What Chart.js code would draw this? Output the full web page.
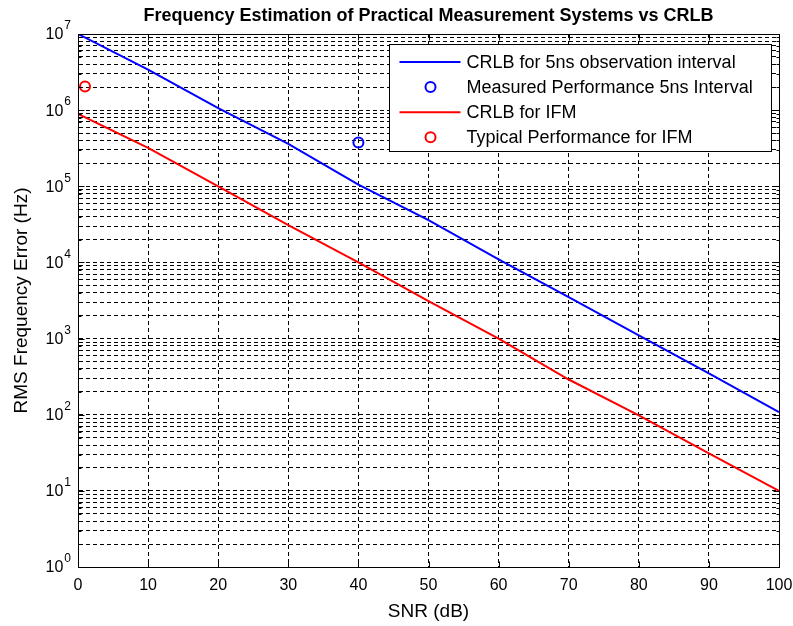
<!DOCTYPE html>
<html>
<head>
<meta charset="utf-8">
<script src="https://cdn.jsdelivr.net/npm/chart.js@4"></script>
<style>
  body { margin: 0; background: #fff; }
  canvas { display: block; }
</style>
</head>
<body>
<canvas id="crlbChart" width="793" height="626"></canvas>
<script>
// SNR grid (dB) and the two Cramer-Rao bounds
var snrDb   = [0, 10, 20, 30, 40, 50, 60, 70, 80, 90, 100];
var crlb5ns = [1.0e7, 3.4e6, 1.06e6, 3.6e5, 1.05e5, 3.6e4, 1.1e4, 3.5e3, 1.1e3, 3.5e2, 1.08e2];
var crlbIfm = [8.9e5, 3.2e5, 1.0e5, 3.1e4, 1.0e4, 3.1e3, 1.0e3, 2.9e2, 9.8e1, 3.1e1, 1.0e1];

// single measured points
var measuredSnr = [40];
var measuredErr = [3.75e5];
var typicalSnr  = [1];
var typicalErr  = [2.05e6];

// y axis decades (10^0 .. 10^7) and x tick labels
var yDecades = [0, 1, 2, 3, 4, 5, 6, 7];
var xTicks   = [0, 10, 20, 30, 40, 50, 60, 70, 80, 90, 100];

var chartTitle = 'Frequency Estimation of Practical Measurement Systems vs CRLB';

var FONT = "'Liberation Sans', Arial, sans-serif";

function toPoints(xs, ys) {
    return xs.map(function(v, i) { return { x: v, y: ys[i] }; });
}

// every 1..9 multiple inside the decades gets a grid line
var yGridValues = [];
yDecades.forEach(function(e) {
    for (var m = 1; m <= 9; m++) {
        if (e === yDecades[yDecades.length - 1] && m > 1) break;
        yGridValues.push(m * Math.pow(10, e));
    }
});

function isDecade(v) {
    var l = Math.log10(v);
    return Math.abs(l - Math.round(l)) < 1e-9;
}

// title over the axes, box, inward tick marks, y labels with exponents, legend
var matlabFrame = {
    id: 'matlabFrame',
    afterDraw: function(chart) {
        var ctx = chart.ctx, a = chart.chartArea;
        var xs = chart.scales.x, ys = chart.scales.y;
        ctx.save();
        ctx.setLineDash([]);
        ctx.strokeStyle = '#000';
        ctx.lineWidth = 1;

        ctx.fillStyle = '#000';
        ctx.font = 'bold 18px ' + FONT;
        ctx.textAlign = 'center';
        ctx.textBaseline = 'middle';
        ctx.fillText(chartTitle, (a.left + a.right) / 2, 16);

        var L = Math.round(a.left) + 0.5, R = Math.round(a.right) + 0.5;
        var T = Math.round(a.top) + 0.5, B = Math.round(a.bottom) + 0.5;
        ctx.strokeRect(L, T, R - L, B - T);

        ctx.beginPath();
        xTicks.forEach(function(v) {
            var px = Math.round(xs.getPixelForValue(v)) + 0.5;
            ctx.moveTo(px, B); ctx.lineTo(px, B - 6);
            ctx.moveTo(px, T); ctx.lineTo(px, T + 6);
        });
        yGridValues.forEach(function(v) {
            var py = Math.round(ys.getPixelForValue(v)) + 0.5;
            var len = isDecade(v) ? 6 : 3;
            ctx.moveTo(L, py); ctx.lineTo(L + len, py);
            ctx.moveTo(R, py); ctx.lineTo(R - len, py);
        });
        ctx.stroke();

        // 10^n labels
        yDecades.forEach(function(e) {
            var py = ys.getPixelForValue(Math.pow(10, e)) + 1;
            ctx.font = '12px ' + FONT;
            var expW = ctx.measureText(String(e)).width;
            var expX = a.left - 7 - expW;
            ctx.textAlign = 'left';
            ctx.fillText(String(e), expX, py - 9);
            ctx.font = '16px ' + FONT;
            ctx.textAlign = 'right';
            ctx.fillText('10', expX - 1, py);
        });

        // legend
        var sets = chart.data.datasets;
        ctx.font = '18px ' + FONT;
        var maxW = 0;
        sets.forEach(function(d) { maxW = Math.max(maxW, ctx.measureText(d.label).width); });
        var boxW = Math.round(77 + maxW + 19), boxH = 107;
        var bx = Math.round(a.right - 8 - boxW) + 0.5, by = Math.round(a.top + 10) + 0.5;
        ctx.fillStyle = '#fff';
        ctx.fillRect(bx, by, boxW, boxH);
        ctx.strokeStyle = '#000';
        ctx.lineWidth = 1;
        ctx.strokeRect(bx, by, boxW, boxH);

        sets.forEach(function(d, i) {
            var ry = by + 17.5 + i * 25.1;
            ctx.strokeStyle = d.borderColor;
            ctx.lineWidth = 2;
            if (d.showLine === false) {
                ctx.beginPath();
                ctx.arc(bx + 41, ry, d.pointRadius, 0, Math.PI * 2);
                ctx.stroke();
            } else {
                ctx.beginPath();
                ctx.moveTo(bx + 10, ry); ctx.lineTo(bx + 71, ry);
                ctx.stroke();
            }
            ctx.fillStyle = '#000';
            ctx.textAlign = 'left';
            ctx.textBaseline = 'middle';
            ctx.fillText(d.label, bx + 77, ry + 1);
        });
        ctx.restore();
    }
};

var ctx = document.getElementById('crlbChart').getContext('2d');
var chart = new Chart(ctx, {
    type: 'line',
    data: {
        datasets: [
            {
                label: 'CRLB for 5ns observation interval',
                data: toPoints(snrDb, crlb5ns),
                borderColor: '#0000ff', borderWidth: 2,
                pointRadius: 0, tension: 0, fill: false
            },
            {
                label: 'Measured Performance 5ns Interval',
                data: toPoints(measuredSnr, measuredErr),
                showLine: false,
                borderColor: '#0000ff', backgroundColor: 'rgba(0,0,0,0)',
                pointRadius: 5, pointBorderWidth: 2, pointStyle: 'circle'
            },
            {
                label: 'CRLB for IFM',
                data: toPoints(snrDb, crlbIfm),
                borderColor: '#ff0000', borderWidth: 2,
                pointRadius: 0, tension: 0, fill: false
            },
            {
                label: 'Typical Performance for IFM',
                data: toPoints(typicalSnr, typicalErr),
                showLine: false,
                borderColor: '#ff0000', backgroundColor: 'rgba(0,0,0,0)',
                pointRadius: 5, pointBorderWidth: 2, pointStyle: 'circle'
            }
        ]
    },
    options: {
        responsive: false,
        animation: false,
        layout: { padding: { left: 0, right: 0, top: 34, bottom: 0 } },
        plugins: {
            legend: { display: false },
            tooltip: { enabled: false },
            title: { display: false }
        },
        scales: {
            x: {
                type: 'linear',
                min: 0, max: 100,
                afterBuildTicks: function(scale) {
                    scale.ticks = xTicks.map(function(v) { return { value: v }; });
                },
                afterFit: function(scale) {
                    scale.height = 59;
                    scale.paddingLeft = 0;
                    scale.paddingRight = 14;
                },
                ticks: { color: '#000', font: { family: FONT, size: 16 }, padding: 9, maxRotation: 0 },
                grid: { color: '#000', lineWidth: 1, drawTicks: false },
                border: { color: '#000', dash: [4, 3] },
                title: {
                    display: true, text: 'SNR (dB)', color: '#000',
                    font: { family: FONT, size: 19 },
                    padding: { top: 0, bottom: 3 }
                }
            },
            y: {
                type: 'logarithmic',
                min: 1, max: 1e7,
                afterBuildTicks: function(scale) {
                    scale.ticks = yGridValues.map(function(v) { return { value: v }; });
                },
                afterFit: function(scale) { scale.width = 78; },
                ticks: { display: false },
                grid: { color: '#000', lineWidth: 1, drawTicks: false },
                border: { color: '#000', dash: [4, 3] },
                title: {
                    display: true, text: 'RMS Frequency Error (Hz)', color: '#000',
                    font: { family: FONT, size: 19 },
                    padding: { top: 10, bottom: 0 }
                }
            }
        }
    },
    plugins: [matlabFrame]
});
</script>
</body>
</html>
